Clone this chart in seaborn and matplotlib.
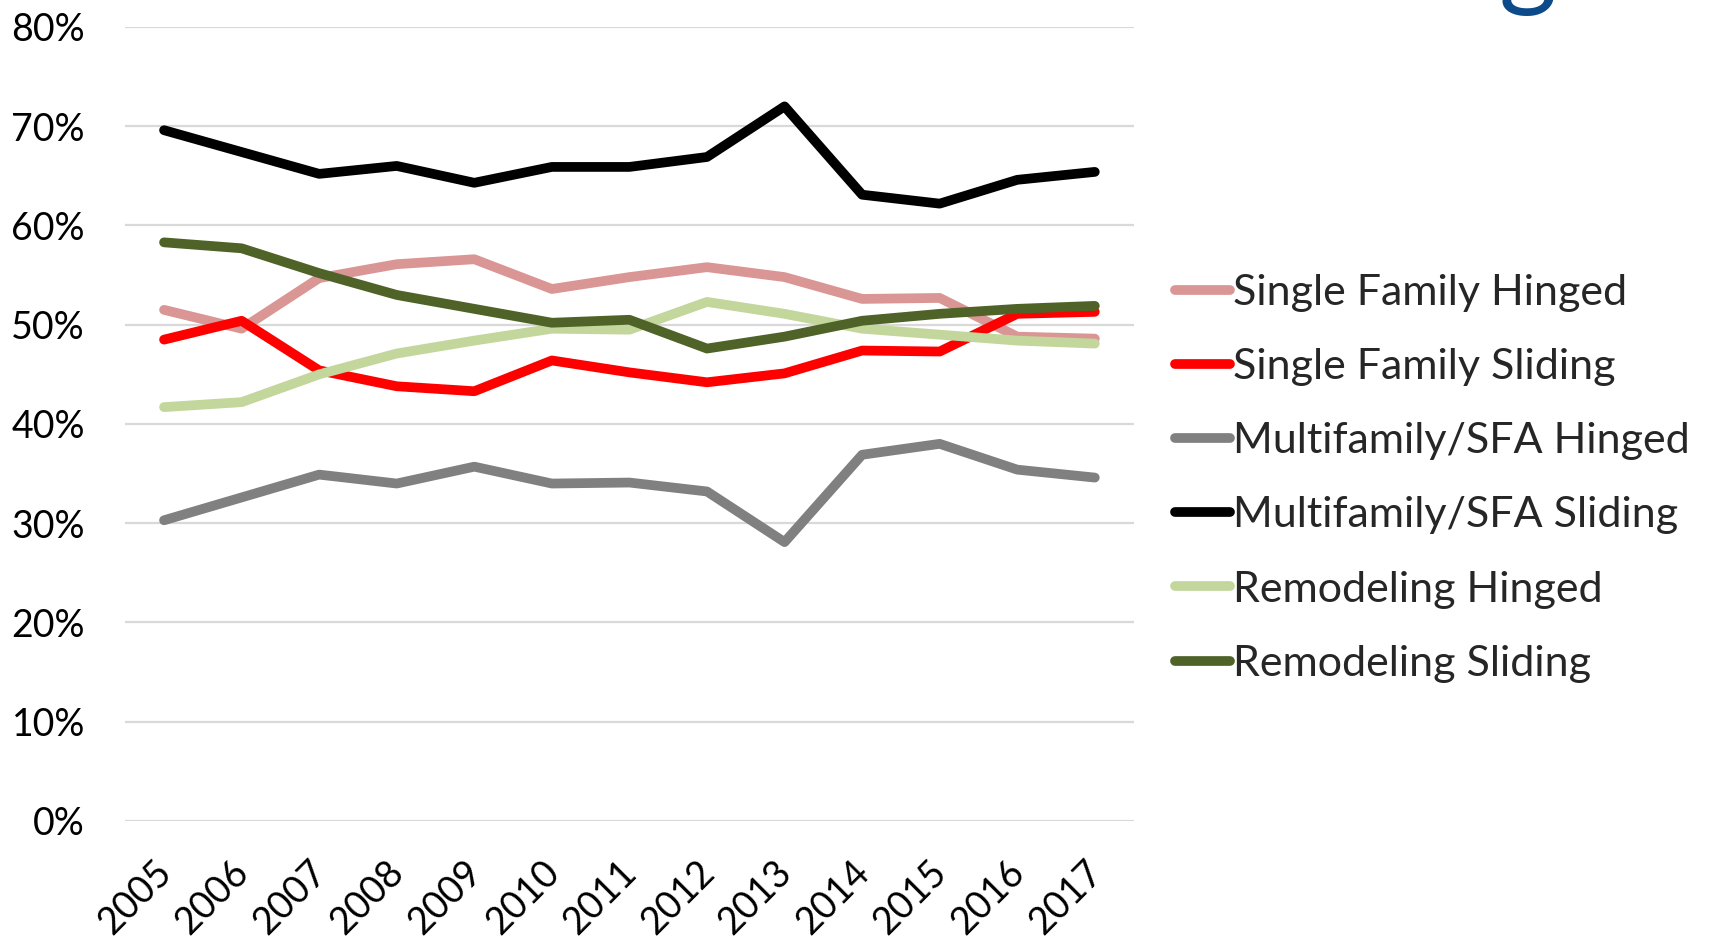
import matplotlib
matplotlib.use("Agg")
import matplotlib.pyplot as plt
import matplotlib.transforms as mtransforms
import seaborn as sns
import pandas as pd
from matplotlib.ticker import PercentFormatter

# Share of doors by segment and type, 2005-2017
years = [2005, 2006, 2007, 2008, 2009, 2010, 2011, 2012, 2013, 2014, 2015, 2016, 2017]

single_family_hinged = [0.515, 0.496, 0.547, 0.561, 0.566, 0.536, 0.548, 0.558, 0.548, 0.526, 0.527, 0.488, 0.486]
single_family_sliding = [0.485, 0.504, 0.454, 0.438, 0.433, 0.464, 0.452, 0.442, 0.451, 0.474, 0.473, 0.511, 0.513]
multifamily_hinged = [0.303, 0.326, 0.349, 0.340, 0.357, 0.340, 0.341, 0.332, 0.281, 0.369, 0.380, 0.354, 0.346]
multifamily_sliding = [0.696, 0.674, 0.652, 0.660, 0.643, 0.659, 0.659, 0.669, 0.720, 0.631, 0.622, 0.646, 0.654]
remodeling_hinged = [0.417, 0.422, 0.450, 0.471, 0.484, 0.496, 0.495, 0.523, 0.511, 0.496, 0.490, 0.484, 0.481]
remodeling_sliding = [0.583, 0.577, 0.552, 0.530, 0.516, 0.502, 0.505, 0.476, 0.488, 0.504, 0.511, 0.516, 0.519]

series_names = [
    "Single Family Hinged",
    "Single Family Sliding",
    "Multifamily/SFA Hinged",
    "Multifamily/SFA Sliding",
    "Remodeling Hinged",
    "Remodeling Sliding",
]
series_values = [
    single_family_hinged,
    single_family_sliding,
    multifamily_hinged,
    multifamily_sliding,
    remodeling_hinged,
    remodeling_sliding,
]
series_colors = ["#D99694", "#FF0000", "#808080", "#000000", "#C3D69B", "#4F6228"]

y_ticks = [0.0, 0.1, 0.2, 0.3, 0.4, 0.5, 0.6, 0.7, 0.8]

rows = []
for name, vals in zip(series_names, series_values):
    for yr, v in zip(years, vals):
        rows.append({"Year": yr, "Share": v, "Segment": name})
df = pd.DataFrame(rows)

sns.set_style("white")
plt.rcParams["font.family"] = ["Lato", "DejaVu Sans"]

fig = plt.figure(figsize=(17.09, 9.40), dpi=100)
ax = fig.add_axes([0.0733, 0.1266, 0.5900, 0.8447])

sns.lineplot(
    data=df, x="Year", y="Share", hue="Segment", hue_order=series_names,
    palette=dict(zip(series_names, series_colors)), linewidth=7.0,
    sort=False, ax=ax, solid_capstyle="round", solid_joinstyle="round",
)

ax.set_xlim(years[0] - 0.5, years[-1] + 0.5)
ax.set_ylim(0, 0.8)
ax.set_yticks(y_ticks)
ax.yaxis.set_major_formatter(PercentFormatter(1.0, decimals=0))
ax.set_xticks(years)
ax.set_xticklabels([str(y) for y in years])
ax.set_xlabel("")
ax.set_ylabel("")

ax.yaxis.grid(True, color="#D9D9D9", linewidth=1.6)
ax.xaxis.grid(False)
ax.set_axisbelow(True)
for s in ax.spines.values():
    s.set_visible(False)

ax.tick_params(axis="y", length=0, pad=29, labelsize=27, labelcolor="#000000")
ax.tick_params(axis="x", length=0, pad=24, labelsize=27, labelcolor="#000000")
shift_left = mtransforms.ScaledTranslation(-0.11, 0, fig.dpi_scale_trans)
for lbl in ax.get_xticklabels():
    lbl.set_rotation(45)
    lbl.set_rotation_mode("anchor")
    lbl.set_ha("right")
    lbl.set_va("top")
    lbl.set_transform(lbl.get_transform() + shift_left)

handles, labels = ax.get_legend_handles_labels()
ax.legend(
    handles, labels, loc="center left", bbox_to_anchor=(0.6876, 0.4912),
    bbox_transform=fig.transFigure, frameon=False, fontsize=31,
    handlelength=1.27, handletextpad=0.07, labelspacing=0.84,
    borderpad=0, borderaxespad=0,
)

# Descender of the heading glyph sitting above the chart area
fig.text(0.877, 1.004, "g", fontsize=80, color="#0D4A8A", ha="left", va="baseline")

fig.savefig("out.png", dpi=100)
